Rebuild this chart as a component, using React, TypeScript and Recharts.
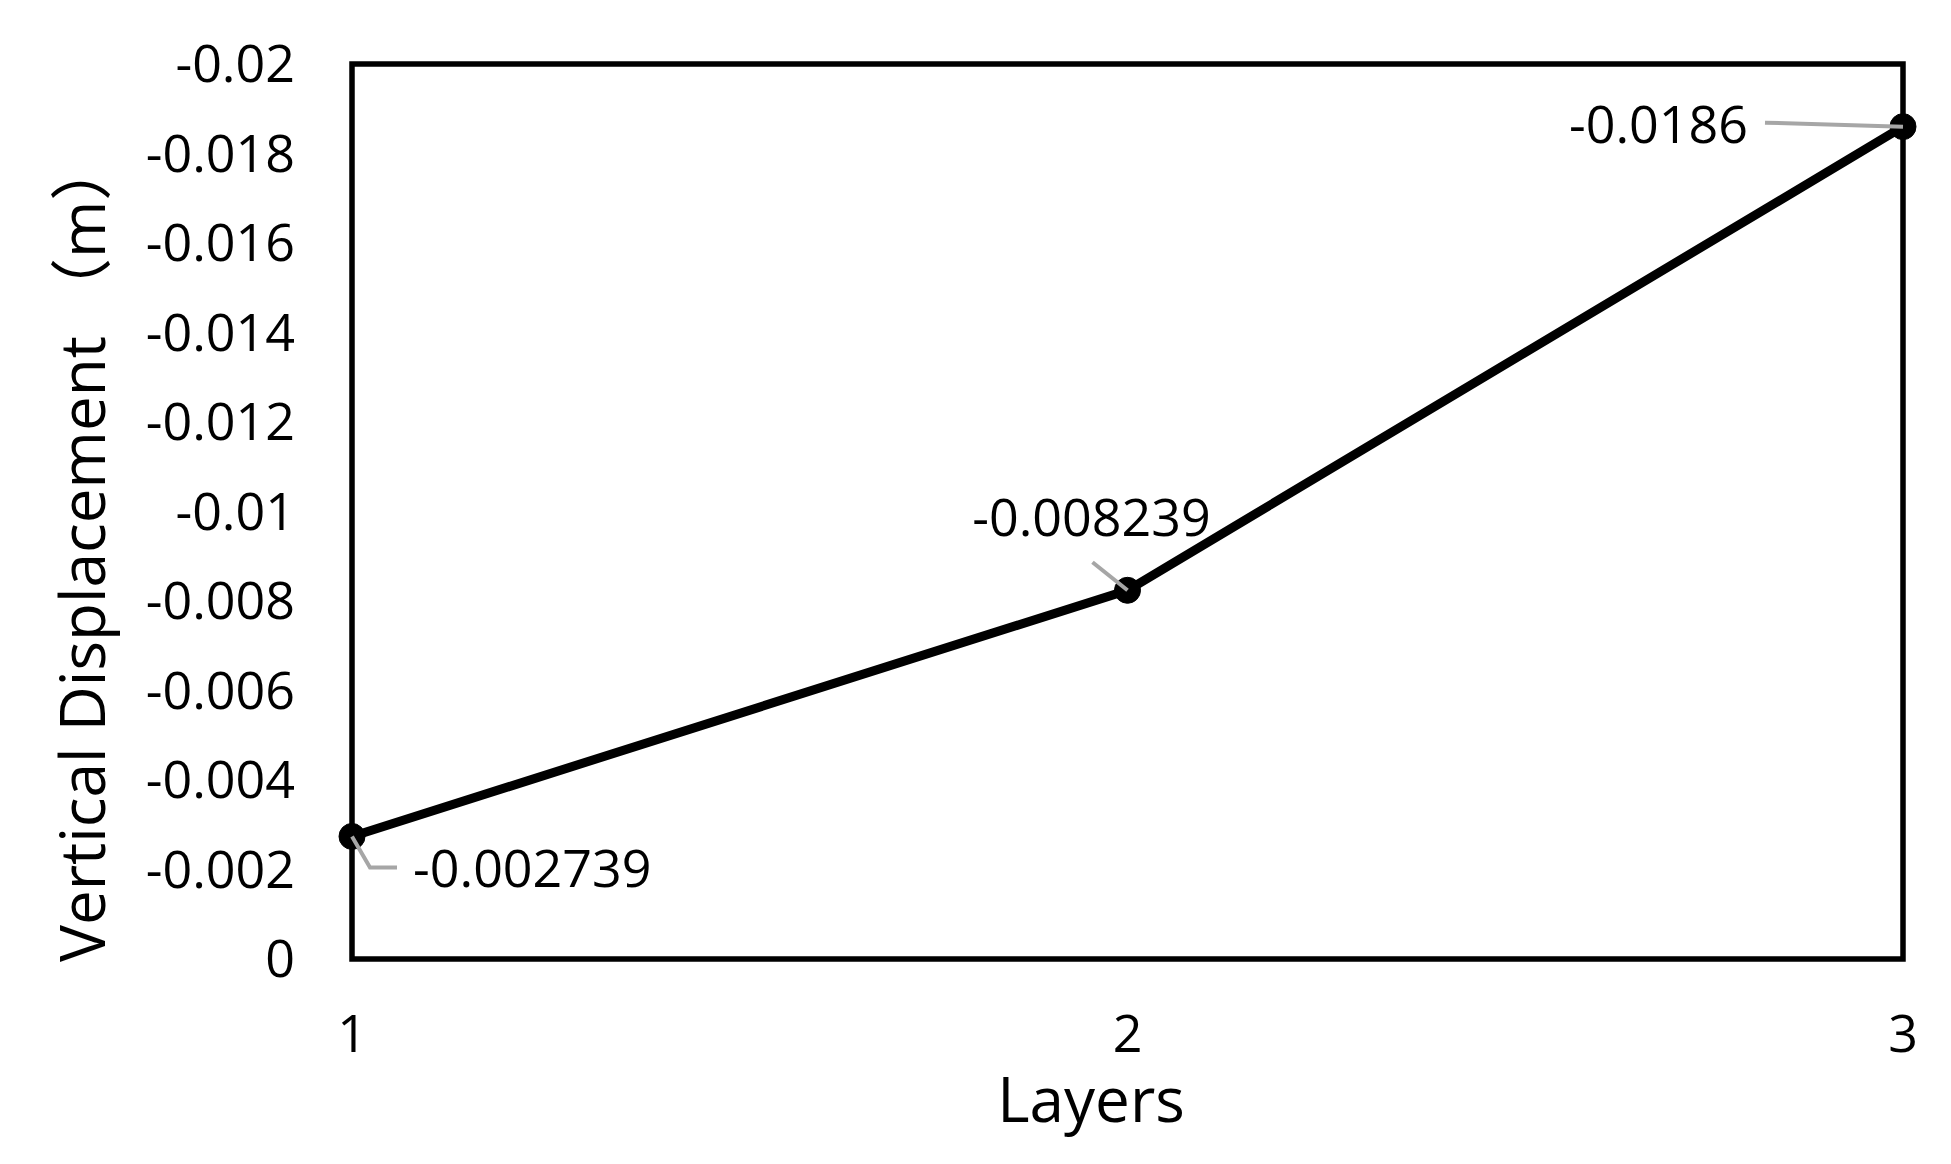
import React from "react";
import { LineChart, Line, XAxis, YAxis, ReferenceArea, LabelList, Label } from "recharts";

const layers = [1, 2, 3];
const displacement = [-0.002739, -0.008239, -0.0186];
const xTicks = [1, 2, 3];
const yTicks = [0, -0.002, -0.004, -0.006, -0.008, -0.01, -0.012, -0.014, -0.016, -0.018, -0.02];
const xTitle = "Layers";
const yTitle = "Vertical Displacement （m）";

const data = layers.map((l, i) => ({ layer: l, disp: displacement[i] }));

const FONT = "'Open Sans', 'Noto Sans CJK SC', sans-serif";
const LEADER = "#A6A6A6";

const renderLabel = (props: any) => {
  const { x, y, index, value } = props;
  const txt = String(value);
  if (index === 0) {
    return (
      <g>
        <polyline points={`${x},${y} ${x + 18},${y + 31} ${x + 45},${y + 31}`} fill="none" stroke={LEADER} strokeWidth={4} />
        <text x={x + 61} y={y + 32} dy="0.355em" textAnchor="start" fontSize={52} fontFamily={FONT} fill="#000">{txt}</text>
      </g>
    );
  }
  if (index === 1) {
    return (
      <g>
        <line x1={x - 35} y1={y - 28} x2={x} y2={y} stroke={LEADER} strokeWidth={4} />
        <text x={x - 36} y={y - 73} dy="0.355em" textAnchor="middle" fontSize={52} fontFamily={FONT} fill="#000">{txt}</text>
      </g>
    );
  }
  return (
    <g>
      <line x1={x - 138} y1={y - 4} x2={x} y2={y} stroke={LEADER} strokeWidth={4} />
      <text x={x - 155} y={y - 2} dy="0.355em" textAnchor="end" fontSize={52} fontFamily={FONT} fill="#000">{txt}</text>
    </g>
  );
};

const YTitle = (props: any) => (
  <text x={105} y={962} transform="rotate(-90, 105, 962)" textAnchor="start" fontSize={62} fontFamily={FONT} fill="#000">{yTitle}</text>
);

const XTitle = (props: any) => (
  <text x={1091} y={1122} textAnchor="middle" fontSize={62} fontFamily={FONT} fill="#000">{xTitle}</text>
);

export default function App() {
  return (
    <div style={{ position: "absolute", left: 0, top: 0, width: 1951, height: 1164, background: "#fff" }}>
      <LineChart width={1951} height={1164} data={data} margin={{ top: 64, right: 48, bottom: 0, left: 0 }}>
        <XAxis
          dataKey="layer"
          type="number"
          domain={[1, 3]}
          ticks={xTicks}
          axisLine={false}
          tickLine={false}
          tickSize={0}
          tickMargin={56}
          height={205}
          tick={{ fontSize: 52, fontFamily: FONT, fill: "#000" }}
        >
          <Label content={<XTitle />} />
        </XAxis>
        <YAxis
          type="number"
          domain={[-0.02, 0]}
          reversed
          ticks={yTicks}
          interval={0}
          width={352}
          axisLine={false}
          tickLine={false}
          tickSize={0}
          tickMargin={57}
          tickFormatter={(v: number) => String(v)}
          tick={{ fontSize: 52, fontFamily: FONT, fill: "#000" }}
        >
          <Label content={<YTitle />} />
        </YAxis>
        <ReferenceArea x1={1} x2={3} y1={-0.02} y2={0} fill="none" stroke="#000" strokeWidth={5.5} ifOverflow="visible" />
        <Line
          dataKey="disp"
          stroke="#000"
          strokeWidth={9}
          dot={{ r: 13, fill: "#000", stroke: "#000", strokeWidth: 1 }}
          isAnimationActive={false}
        >
          <LabelList dataKey="disp" content={renderLabel} />
        </Line>
      </LineChart>
    </div>
  );
}
